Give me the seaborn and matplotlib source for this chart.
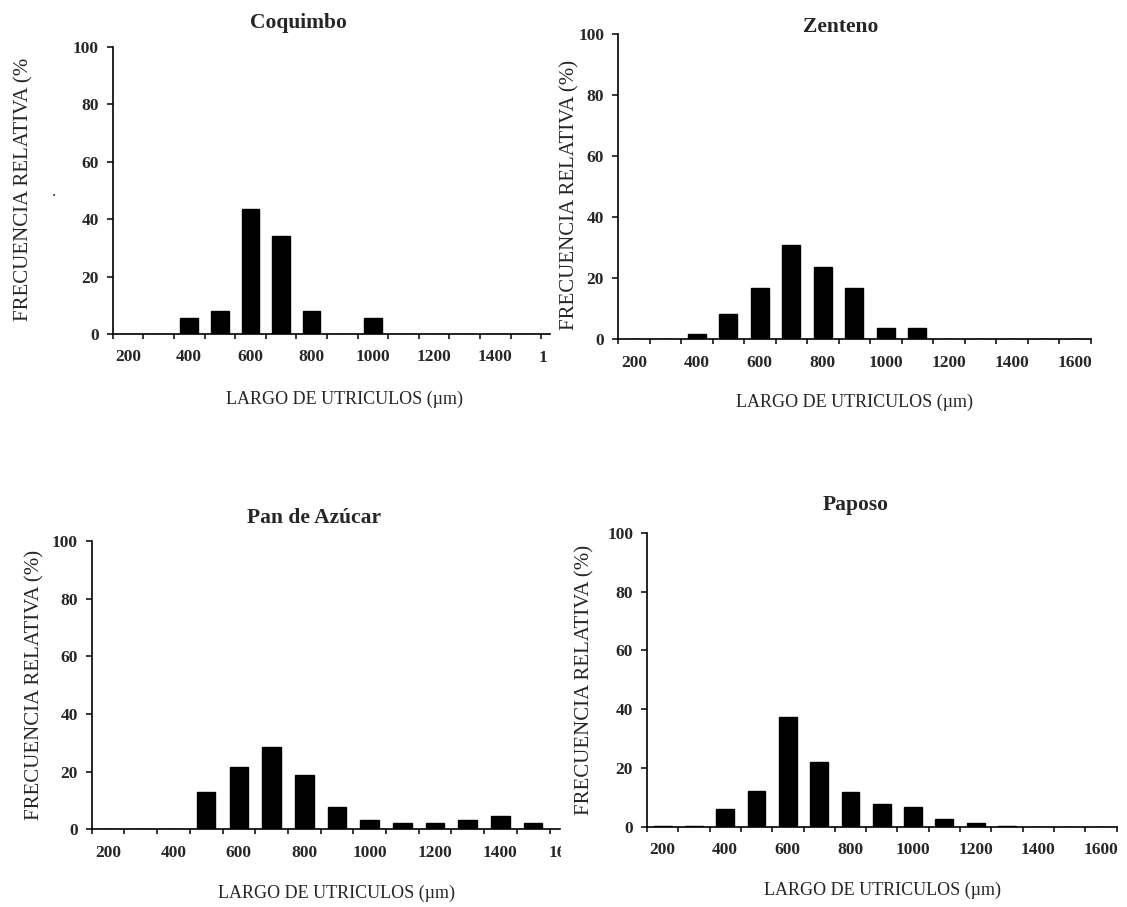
import matplotlib
matplotlib.use("Agg")
import matplotlib.pyplot as plt
import matplotlib.transforms as mtrans
import seaborn as sns
import pandas as pd
from matplotlib.transforms import Bbox

# ---- data (relative frequency %, by utricle length bin in µm) ----
bins = [200, 300, 400, 500, 600, 700, 800, 900, 1000, 1100, 1200, 1300, 1400, 1500, 1600]
coquimbo = [0, 0, 5.6, 7.9, 43.6, 34.3, 7.9, 0, 5.6, 0, 0, 0, 0, 0, 0]
zenteno = [0, 0, 1.7, 8.3, 16.9, 30.8, 23.8, 16.9, 3.6, 3.6, 0, 0, 0, 0, 0]
pan_de_azucar = [0, 0, 0, 13.1, 21.7, 28.7, 18.8, 7.9, 3.2, 2.1, 2.1, 3.2, 4.7, 2.1, 0]
paposo = [0.3, 0.3, 5.9, 12.2, 37.2, 21.9, 11.7, 7.7, 6.8, 2.6, 1.1, 0.3, 0, 0, 0]

titles = ["Coquimbo", "Zenteno", "Pan de Azúcar", "Paposo"]
ylabels = ["FRECUENCIA RELATIVA (%", "FRECUENCIA RELATIVA (%)",
           "FRECUENCIA RELATIVA (%)", "FRECUENCIA RELATIVA (%)"]
xlabel = "LARGO DE UTRICULOS (µm)"
yticks = [0, 20, 40, 60, 80, 100]

sns.set_theme(style="white")
plt.rcParams["font.family"] = ["Liberation Serif", "DejaVu Serif"]

W, H = 1127, 907
fig = plt.figure(figsize=(W / 100, H / 100), dpi=100)
fig.patch.set_facecolor("white")

# layout in pixels: left, y of 0, y of 100, category width, right crop (None = full)
layouts = [
    dict(left=112.7, y0=334.0, y100=47.0, cw=30.6, crop=550.0, clip=547.0,
         title=(298, 23), xl=(344, 399), yl=(24, 189)),
    dict(left=618.0, y0=339.3, y100=34.0, cw=31.5, crop=None, clip=None,
         title=(841, 27), xl=(854, 402), yl=(570, 195)),
    dict(left=91.7, y0=829.3, y100=541.0, cw=32.7, crop=560.0, clip=561.0,
         title=(314, 518), xl=(336, 893), yl=(35, 685)),
    dict(left=647.0, y0=826.7, y100=533.0, cw=31.3, crop=None, clip=None,
         title=(856, 505), xl=(882, 890), yl=(585, 680)),
]
series = [coquimbo, zenteno, pan_de_azucar, paposo]
cats = [str(b) for b in bins]
TICK_FS = 12.5
XPAD = 11

for vals, lay, title, ylab in zip(series, layouts, titles, ylabels):
    n = len(bins)
    full_w = n * lay["cw"]
    width_px = full_w if lay["crop"] is None else lay["crop"] - lay["left"]
    xmax = -0.5 + width_px / lay["cw"]
    ax = fig.add_axes([lay["left"] / W, (H - lay["y0"]) / H,
                       width_px / W, (lay["y0"] - lay["y100"]) / H])
    df = pd.DataFrame({"bin": cats, "freq": vals})
    sns.barplot(data=df, x="bin", y="freq", order=cats, color="black",
                width=0.57, saturation=1, ax=ax)
    for p in ax.patches:
        p.set_edgecolor("black")
    ax.set_xlim(-0.5, xmax)
    ax.set_ylim(0, 100)
    ax.set_xlabel("")
    ax.set_ylabel("")
    for s in ["top", "right"]:
        ax.spines[s].set_visible(False)
    for s in ["left", "bottom"]:
        ax.spines[s].set_color("black")
        ax.spines[s].set_linewidth(1.2)
    ax.set_facecolor("white")
    ax.set_yticks(yticks)
    ax.set_yticklabels([str(v) for v in yticks], fontsize=TICK_FS, fontweight="bold")
    ax.tick_params(axis="y", direction="out", length=4, width=1.1, color="black",
                   pad=6, left=True)
    major = [i for i in range(0, n, 2) if i <= xmax]
    ax.set_xticks(major)
    ax.set_xticklabels([cats[i] for i in major], fontsize=TICK_FS, fontweight="bold")
    ax.set_xticks([i - 0.5 for i in range(n + 1) if i - 0.5 <= xmax + 1e-6], minor=True)
    ax.tick_params(axis="x", which="major", length=0, pad=XPAD)
    ax.tick_params(axis="x", which="minor", direction="out", length=3.5, width=1.1,
                   color="black", bottom=True)
    # label of the last bin, cropped by the panel edge as in the source
    if lay["clip"] is not None:
        t = ax.text(n - 1, 0, cats[n - 1], ha="center", va="top",
                    fontsize=TICK_FS, fontweight="bold", clip_on=True,
                    transform=ax.get_xaxis_transform() +
                    mtrans.ScaledTranslation(0, -(XPAD + 0.6) / 72, fig.dpi_scale_trans))
        t.set_clip_box(Bbox.from_extents(0, 0, lay["clip"], H))
    fig.text(lay["title"][0] / W, 1 - lay["title"][1] / H, title, ha="center",
             va="center", fontsize=15.5, fontweight="bold")
    fig.text(lay["xl"][0] / W, 1 - lay["xl"][1] / H, xlabel, ha="center",
             va="center", fontsize=13)
    fig.text(lay["yl"][0] / W, 1 - lay["yl"][1] / H, ylab, ha="center",
             va="center", rotation=90, fontsize=15)

fig.text(54 / W, 1 - 192 / H, ".", ha="center", va="center", fontsize=12)

fig.savefig("out.png", dpi=100, facecolor="white")
